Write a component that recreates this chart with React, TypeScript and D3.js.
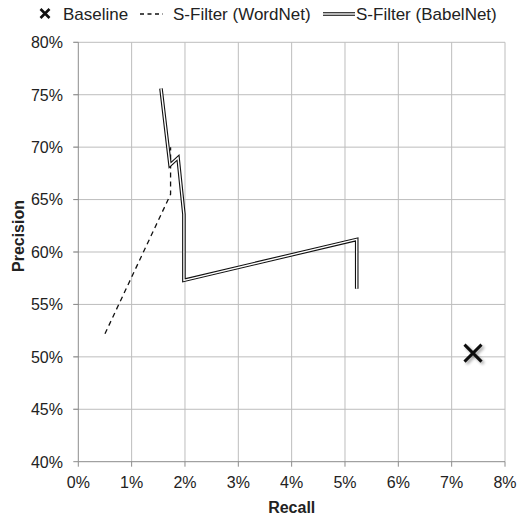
import React from "react";
import * as d3 from "d3";

const xTicks = [0, 1, 2, 3, 4, 5, 6, 7, 8];
const yTicks = [40, 45, 50, 55, 60, 65, 70, 75, 80];

const baselineRecall = [7.4];
const baselinePrecision = [50.35];

const wordnetRecall = [0.5, 1.73, 1.73];
const wordnetPrecision = [52.2, 65.5, 70.0];

const babelRecall = [1.55, 1.72, 1.87, 1.98, 1.98, 5.22, 5.22];
const babelPrecision = [75.6, 68.3, 69.0, 63.6, 57.3, 61.2, 56.5];

const W = 518;
const H = 517;
const FONT = "'Liberation Sans', Arial, sans-serif";
const FS = 16;
const LFS = 17;

export default function App() {
  const x = d3.scaleLinear().domain([0, 8]).range([78.3, 505]);
  const y = d3.scaleLinear().domain([40, 80]).range([461.7, 42.3]);
  const line = d3
    .line<[number, number]>()
    .x((d) => x(d[0]))
    .y((d) => y(d[1]));
  const wn = line(wordnetRecall.map((r, i) => [r, wordnetPrecision[i]]) as [number, number][]) || "";
  const bn = line(babelRecall.map((r, i) => [r, babelPrecision[i]]) as [number, number][]) || "";

  const cross = (cx: number, cy: number, s: number) =>
    `M${cx - s},${cy - s}L${cx + s},${cy + s}M${cx - s},${cy + s}L${cx + s},${cy - s}`;

  return (
    <svg
      width={W}
      height={H}
      style={{ position: "absolute", left: 0, top: 0, background: "#fff" }}
      fontFamily={FONT}
    >
      <defs>
        <filter id="shadow" x="-50%" y="-50%" width="200%" height="200%">
          <feGaussianBlur in="SourceAlpha" stdDeviation="1.5" />
          <feOffset dx="1.5" dy="2" result="o" />
          <feComponentTransfer>
            <feFuncA type="linear" slope="0.35" />
          </feComponentTransfer>
          <feMerge>
            <feMergeNode />
            <feMergeNode in="SourceGraphic" />
          </feMerge>
        </filter>
      </defs>
      {/* grid */}
      {xTicks.slice(1).map((t) => (
        <line key={"gx" + t} x1={x(t)} x2={x(t)} y1={y(80)} y2={y(40)} stroke="#bdbdbd" strokeWidth={1} />
      ))}
      {yTicks.slice(1).map((t) => (
        <line key={"gy" + t} x1={x(0) - 5} x2={x(8)} y1={y(t)} y2={y(t)} stroke="#bdbdbd" strokeWidth={1} />
      ))}
      {/* axes */}
      <line x1={x(0)} x2={x(0)} y1={y(80)} y2={y(40)} stroke="#8c8c8c" strokeWidth={1} />
      <line x1={x(0)} x2={x(8)} y1={y(40)} y2={y(40)} stroke="#8c8c8c" strokeWidth={1} />
      {yTicks.map((t) => (
        <line key={"ty" + t} x1={x(0) - 5} x2={x(0)} y1={y(t)} y2={y(t)} stroke="#8c8c8c" strokeWidth={1} />
      ))}
      {xTicks.map((t) => (
        <line key={"tx" + t} x1={x(t)} x2={x(t)} y1={y(40)} y2={y(40) + 5} stroke="#8c8c8c" strokeWidth={1} />
      ))}
      {yTicks.map((t) => (
        <text key={"ly" + t} x={63} y={y(t) + 5.8} textAnchor="end" fontSize={FS} fill="#222">
          {t}%
        </text>
      ))}
      {xTicks.map((t) => (
        <text key={"lx" + t} x={x(t)} y={488} textAnchor="middle" fontSize={FS} fill="#222">
          {t}%
        </text>
      ))}
      <text x={291.7} y={513} textAnchor="middle" fontSize={FS} fontWeight="bold" fill="#222">
        Recall
      </text>
      <text
        transform={`translate(23.5,236) rotate(-90)`}
        textAnchor="middle"
        fontSize={FS}
        fontWeight="bold"
        fill="#222"
      >
        Precision
      </text>
      {/* series */}
      <path d={wn} fill="none" stroke="#111" strokeWidth={1.3} strokeDasharray="5,4" />
      <path d={bn} fill="none" stroke="#111" strokeWidth={3.6} strokeLinejoin="miter" />
      <path d={bn} fill="none" stroke="#fff" strokeWidth={1.4} strokeLinejoin="miter" />
      {baselineRecall.map((r, i) => (
        <path
          key={"b" + i}
          d={cross(x(r), y(baselinePrecision[i]), 8.5)}
          stroke="#111"
          strokeWidth={3}
          fill="none"
          filter="url(#shadow)"
        />
      ))}
      {/* legend */}
      <path d={cross(45, 13.5, 4.5)} stroke="#111" strokeWidth={2.6} fill="none" />
      <text x={63} y={19.5} fontSize={LFS} fill="#222">
        Baseline
      </text>
      <line x1={140} x2={163} y1={14} y2={14} stroke="#111" strokeWidth={1.3} strokeDasharray="4,3.5" />
      <text x={173} y={19.5} fontSize={LFS} fill="#222">
        S-Filter (WordNet)
      </text>
      <line x1={323} x2={355} y1={14} y2={14} stroke="#111" strokeWidth={3.6} />
      <line x1={323} x2={355} y1={14} y2={14} stroke="#fff" strokeWidth={1.4} />
      <text x={356} y={19.5} fontSize={LFS} fill="#222">
        S-Filter (BabelNet)
      </text>
    </svg>
  );
}
